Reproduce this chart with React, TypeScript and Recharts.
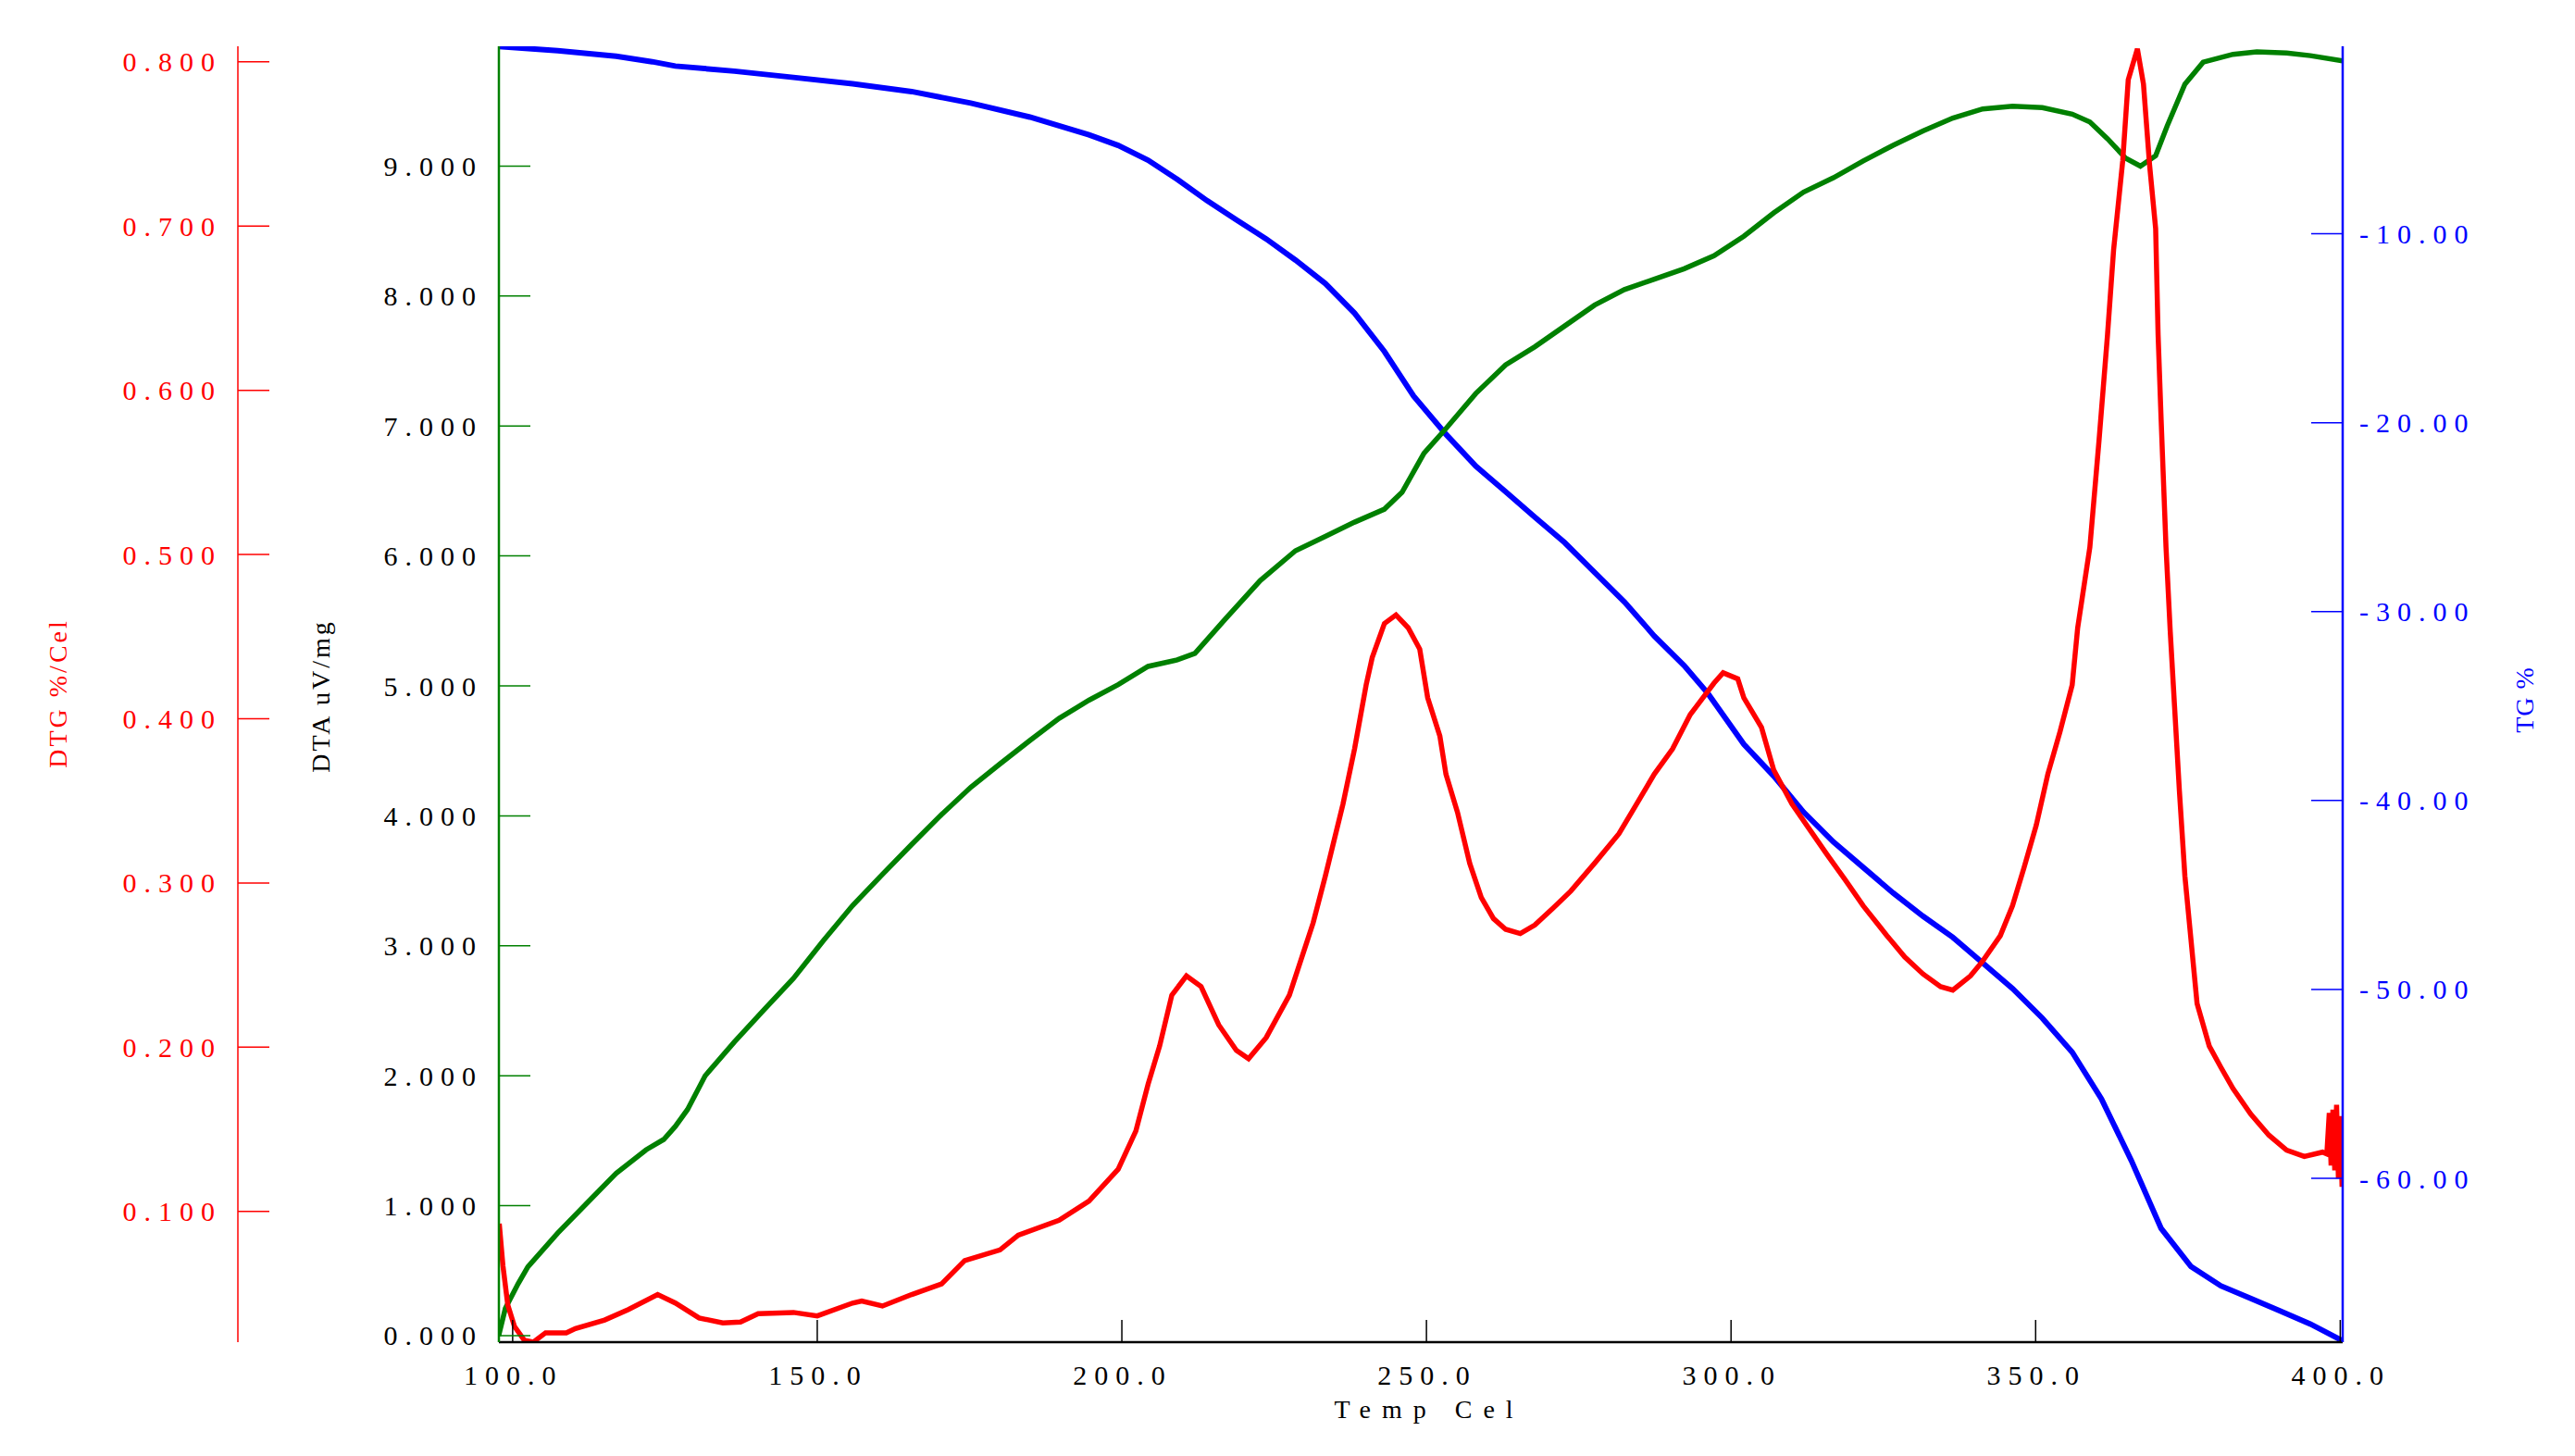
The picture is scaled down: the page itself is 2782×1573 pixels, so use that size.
import { LineChart, Line, XAxis, YAxis } from "recharts";

const FONT = "'Liberation Serif', 'Times New Roman', serif";

// axis ticks
const tempTicks = [100, 150, 200, 250, 300, 350, 400];
const dtaTicks = [0, 1, 2, 3, 4, 5, 6, 7, 8, 9];
const dtgTicks = [0.1, 0.2, 0.3, 0.4, 0.5, 0.6, 0.7, 0.8];
const tgTicks = [-10, -20, -30, -40, -50, -60];

// TG %
const tgTemp = [
  97.7, 107.4, 117.0, 122.9, 126.7, 136.4, 146.1, 155.8, 165.5, 175.2, 184.9,
  194.6, 199.4, 204.3, 209.1, 214.0, 218.8, 223.7, 228.5, 233.4, 238.2, 243.1,
  247.9, 253.2, 258.1, 263.0, 267.8, 272.7, 277.6, 282.5, 287.4, 292.3, 296.2,
  302.1, 307.0, 311.9, 316.8, 321.7, 326.6, 331.5, 336.4, 341.3, 346.2, 351.1,
  356.0, 360.8, 365.7, 370.6, 375.5, 380.4, 385.3, 390.2, 395.1, 400.4,
];
const tgValues = [
  -0.08, -0.31, -0.6, -0.89, -1.12, -1.39, -1.72, -2.06, -2.47, -3.08, -3.82,
  -4.76, -5.32, -6.1, -7.12, -8.25, -9.26, -10.27, -11.39, -12.63, -14.2,
  -16.23, -18.59, -20.61, -22.3, -23.65, -25.0, -26.35, -27.92, -29.49, -31.29,
  -32.86, -34.33, -37.02, -38.7, -40.61, -42.19, -43.54, -44.89, -46.12,
  -47.24, -48.59, -49.95, -51.52, -53.32, -55.79, -59.05, -62.65, -64.67,
  -65.69, -66.36, -67.03, -67.71, -68.6,
];

// DTA uV/mg
const dtaTemp = [
  97.7, 98.8, 100.9, 102.5, 107.4, 112.2, 117.0, 121.9, 124.8, 126.7, 128.7,
  131.6, 136.4, 141.3, 146.1, 151.0, 155.8, 160.7, 165.5, 170.4, 175.2, 180.0,
  184.9, 189.7, 194.6, 199.4, 204.3, 209.1, 212.0, 216.9, 222.7, 228.5, 233.4,
  238.2, 243.1, 246.0, 249.6, 253.2, 258.1, 263.0, 267.8, 272.7, 277.6, 282.5,
  287.4, 292.3, 297.2, 302.1, 307.0, 311.9, 316.8, 321.7, 326.6, 331.5, 336.4,
  341.3, 346.2, 351.1, 356.0, 358.9, 361.8, 364.8, 367.2, 369.7, 371.6, 374.5,
  377.5, 382.4, 386.3, 391.2, 395.1, 400.4,
];
const dtaValues = [
  0.0, 0.21, 0.4, 0.53, 0.79, 1.02, 1.25, 1.43, 1.51, 1.61, 1.74, 2.0, 2.26,
  2.51, 2.75, 3.04, 3.31, 3.55, 3.78, 4.01, 4.22, 4.4, 4.58, 4.75, 4.89, 5.01,
  5.15, 5.2, 5.25, 5.51, 5.81, 6.04, 6.15, 6.26, 6.36, 6.49, 6.79, 6.98, 7.25,
  7.47, 7.61, 7.77, 7.93, 8.05, 8.13, 8.21, 8.31, 8.46, 8.64, 8.8, 8.91, 9.04,
  9.16, 9.27, 9.37, 9.44, 9.46, 9.45, 9.4, 9.34, 9.21, 9.06, 9.0, 9.08, 9.31,
  9.63, 9.8, 9.86, 9.88, 9.87, 9.85, 9.81,
];

// DTG %/Cel
const dtgTemp = [
  97.8, 98.4, 99.2, 100.3, 101.9, 103.4, 105.4, 108.8, 110.3, 115.1, 119.0,
  123.8, 126.7, 130.6, 134.5, 137.4, 140.3, 146.1, 150.0, 155.8, 157.3, 160.7,
  165.5, 170.4, 174.2, 180.0, 183.0, 189.7, 194.6, 199.4, 202.3, 204.3, 206.2,
  208.2, 210.6, 213.0, 215.9, 218.8, 220.8, 223.7, 227.5, 231.4, 233.4, 236.3,
  238.2, 240.1, 241.1, 243.1, 245.0, 247.0, 248.9, 250.2, 252.2, 253.2, 255.1,
  257.1, 259.0, 261.0, 263.0, 265.4, 267.8, 270.8, 273.7, 277.6, 281.6, 284.5,
  287.4, 290.4, 293.3, 297.2, 298.7, 301.1, 302.1, 305.0, 307.0, 310.0, 312.9,
  315.8, 318.8, 321.7, 325.6, 328.5, 331.5, 334.4, 336.4, 339.3, 341.3, 344.2,
  346.2, 348.1, 350.1, 352.0, 354.0, 356.0, 356.9, 358.9, 360.4, 361.8, 362.8,
  364.3, 365.2, 366.7, 367.7, 368.7, 369.7, 370.1, 370.6, 371.4, 372.1, 372.6,
  373.6, 374.5, 375.5, 376.5, 378.5, 380.4, 382.4, 385.3, 388.3, 391.2, 394.1,
  397.1, 397.8, 398.2, 398.5, 398.8, 399.1, 399.4, 399.7, 400.0, 400.3,
];
const dtgValues = [
  0.0926, 0.067, 0.043, 0.03, 0.0216, 0.0205, 0.0261, 0.026, 0.0287, 0.0339,
  0.0403, 0.0494, 0.0442, 0.0351, 0.0321, 0.0326, 0.0377, 0.0385, 0.0364,
  0.0442, 0.0455, 0.0424, 0.0494, 0.0558, 0.0701, 0.0766, 0.0856, 0.0946,
  0.1063, 0.1257, 0.149, 0.1774, 0.2007, 0.2317, 0.2434, 0.2369, 0.2136,
  0.1981, 0.193, 0.2059, 0.2317, 0.2757, 0.3042, 0.3481, 0.3817, 0.4206,
  0.4373, 0.458, 0.4632, 0.4554, 0.4424, 0.4128, 0.3895, 0.3663, 0.343, 0.312,
  0.2912, 0.2783, 0.2718, 0.2692, 0.2744, 0.2848, 0.2951, 0.312, 0.33, 0.3481,
  0.3663, 0.3817, 0.4025, 0.4217, 0.428, 0.4243, 0.4128, 0.3947, 0.3689,
  0.3481, 0.3326, 0.3171, 0.3016, 0.2861, 0.2679, 0.255, 0.2446, 0.2369,
  0.2348, 0.2434, 0.2524, 0.2679, 0.2861, 0.3094, 0.3352, 0.3663, 0.3921,
  0.4206, 0.4554, 0.5045, 0.5692, 0.6339, 0.6856, 0.7399, 0.7891, 0.808,
  0.7865, 0.7374, 0.6985, 0.6339, 0.5821, 0.5045, 0.4528, 0.4206, 0.3559,
  0.3042, 0.2654, 0.2265, 0.2007, 0.1878, 0.1748, 0.1593, 0.1464, 0.1373,
  0.1335, 0.1361, 0.135, 0.16, 0.128, 0.162, 0.125, 0.165, 0.12, 0.158, 0.115,
];

const zip = (t: number[], v: number[]) =>
  t.map((temp, i) => ({ temp, value: v[i] }));

const tgData = zip(tgTemp, tgValues);
const dtaData = zip(dtaTemp, dtaValues);
const dtgData = zip(dtgTemp, dtgValues);

const tickText = {
  fontSize: 30,
  letterSpacing: 8,
  fontFamily: FONT,
};

// left axes: tick goes right (into plot), label to the left
const leftTick =
  (lineColor: string, textColor: string, digits: number) => (props: any) => {
    const { x, y, payload } = props;
    return (
      <g>
        <line x1={x} x2={x + 34} y1={y} y2={y} stroke={lineColor} strokeWidth={1.5} />
        <text
          x={x - 17}
          y={y}
          textAnchor="end"
          dominantBaseline="central"
          fill={textColor}
          {...tickText}
        >
          {payload.value.toFixed(digits)}
        </text>
      </g>
    );
  };

const rightTick = (props: any) => {
  const { x, y, payload } = props;
  return (
    <g>
      <line x1={x - 34} x2={x} y1={y} y2={y} stroke="#0000ff" strokeWidth={1.5} />
      <text x={x + 18} y={y} textAnchor="start" dominantBaseline="central" fill="#0000ff" {...tickText}>
        {payload.value.toFixed(2)}
      </text>
    </g>
  );
};

const bottomTick = (props: any) => {
  const { x, y, payload } = props;
  return (
    <g>
      <line x1={x} x2={x} y1={y} y2={y - 24} stroke="#000" strokeWidth={1.5} />
      <text x={x + 1} y={y + 35} textAnchor="middle" dominantBaseline="central" fill="#000" {...tickText}>
        {payload.value.toFixed(1)}
      </text>
    </g>
  );
};

const verticalTitle =
  (text: string, color: string, dx: number, cyAbs: number, spacing: number) =>
  (props: any) => {
    const vb = props.viewBox || { x: 0 };
    const cx = vb.x + dx;
    return (
      <text
        x={cx}
        y={cyAbs}
        transform={`rotate(-90 ${cx} ${cyAbs})`}
        textAnchor="middle"
        dominantBaseline="central"
        fill={color}
        fontSize={28}
        letterSpacing={spacing}
        fontFamily={FONT}
      >
        {text}
      </text>
    );
  };

const tempTitle = (props: any) => {
  const vb = props.viewBox || { x: 0, y: 0, width: 0 };
  return (
    <text
      x={vb.x + vb.width / 2 + 9}
      y={vb.y + 72}
      textAnchor="middle"
      dominantBaseline="central"
      fill="#000"
      fontSize={28}
      letterSpacing={12}
      fontFamily={FONT}
    >
      Temp Cel
    </text>
  );
};

export default function App() {
  return (
    <div style={{ position: "absolute", left: 0, top: 0, background: "#fff" }}>
      <LineChart
        width={2782}
        height={1573}
        margin={{ top: 50, right: 0, bottom: 0, left: 20 }}
      >
        <XAxis
          dataKey="temp"
          type="number"
          domain={[97.74, 400.4]}
          allowDataOverflow
          ticks={tempTicks}
          interval={0}
          height={123}
          axisLine={{ stroke: "#000", strokeWidth: 2.5 }}
          tickLine={false}
          tickSize={0}
          tickMargin={0}
          tick={bottomTick}
          label={{ content: tempTitle }}
        />
        <XAxis
          xAxisId="top"
          orientation="top"
          type="number"
          domain={[97.74, 400.4]}
          allowDataOverflow
          height={0}
          axisLine={{ stroke: "#000", strokeWidth: 2.5 }}
          tick={false}
          tickLine={false}
        />
        <YAxis
          yAxisId="dta"
          orientation="left"
          type="number"
          width={282}
          domain={[-0.05, 9.922]}
          allowDataOverflow
          ticks={dtaTicks}
          interval={0}
          axisLine={{ stroke: "#008000", strokeWidth: 2.5 }}
          tickLine={false}
          tickSize={0}
          tickMargin={0}
          tick={leftTick("#008000", "#000", 3)}
          label={{ content: verticalTitle("DTA uV/mg", "#000", 89, 752, 3) }}
        />
        <YAxis
          yAxisId="dtg"
          orientation="left"
          type="number"
          width={237}
          domain={[0.0204, 0.8095]}
          allowDataOverflow
          ticks={dtgTicks}
          interval={0}
          axisLine={{ stroke: "#ff0000", strokeWidth: 1.5 }}
          tickLine={false}
          tickSize={0}
          tickMargin={0}
          tick={leftTick("#ff0000", "#ff0000", 3)}
          label={{ content: verticalTitle("DTG %/Cel", "#ff0000", 42, 749, 3) }}
        />
        <YAxis
          yAxisId="tg"
          orientation="right"
          type="number"
          width={251}
          domain={[-68.67, -0.073]}
          allowDataOverflow
          ticks={tgTicks}
          interval={0}
          axisLine={{ stroke: "#0000ff", strokeWidth: 2.5 }}
          tickLine={false}
          tickSize={0}
          tickMargin={0}
          tick={rightTick}
          label={{ content: verticalTitle("TG %", "#0000ff", 196, 756, 1) }}
        />
        <Line
          yAxisId="tg"
          data={tgData}
          dataKey="value"
          type="linear"
          stroke="#0000ff"
          strokeWidth={6}
          dot={false}
          activeDot={false}
          isAnimationActive={false}
        />
        <Line
          yAxisId="dta"
          data={dtaData}
          dataKey="value"
          type="linear"
          stroke="#008000"
          strokeWidth={5.5}
          dot={false}
          activeDot={false}
          isAnimationActive={false}
        />
        <Line
          yAxisId="dtg"
          data={dtgData}
          dataKey="value"
          type="linear"
          stroke="#ff0000"
          strokeWidth={5.5}
          dot={false}
          activeDot={false}
          isAnimationActive={false}
        />
      </LineChart>
    </div>
  );
}
